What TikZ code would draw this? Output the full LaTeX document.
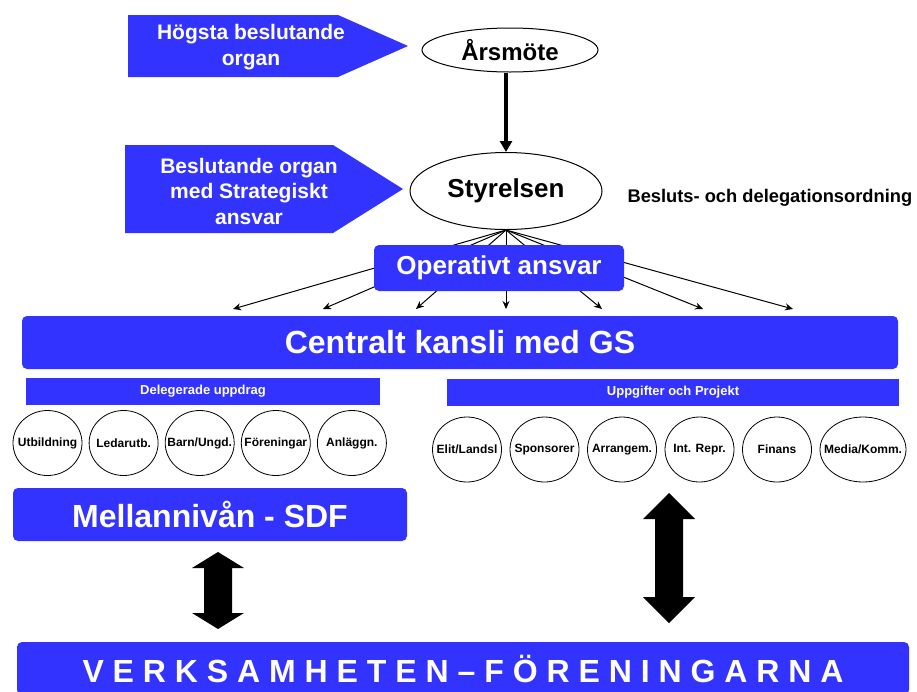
\documentclass[tikz,border=0pt]{standalone}
\usepackage{fontspec}
\setmainfont{Liberation Sans}
\usetikzlibrary{arrows.meta,shapes.geometric}
\definecolor{orgblue}{RGB}{51,51,255}

\begin{document}
\begin{tikzpicture}[x=1pt,y=-1pt,
  box/.style = {rectangle,rounded corners=5pt,fill=orgblue,text=white,inner sep=0pt,font=\fontsize{32}{36}\selectfont\bfseries},
  bar/.style = {rectangle,fill=orgblue,text=white,inner sep=0pt,minimum height=27pt,font=\fontsize{13}{15}\selectfont\bfseries},
  tag/.style = {text=white,align=center,font=\fontsize{21}{25.5}\selectfont\bfseries},
  oval/.style = {ellipse,draw=black,fill=white,line width=1pt,inner sep=0pt},
  circ/.style = {ellipse,draw=black,line width=0.8pt,minimum width=69pt,minimum height=65pt,inner sep=0pt,font=\fontsize{12}{14}\selectfont\bfseries}]
\clip (0,0) rectangle (917,691);

% blue pointers on the left
\fill[orgblue] (128,15) -- (338,15) -- (408,46) -- (338,77) -- (128,77) -- cycle;
\node[tag] (hogsta) at (251,47) {Högsta beslutande\\organ};
\fill[orgblue] (125,145) -- (333,145) -- (403,189) -- (333,233) -- (125,233) -- cycle;
\node[tag] (strategi) at (249,191) {Beslutande organ\\med Strategiskt\\ansvar};

\node[oval,minimum width=176pt,minimum height=44pt,font=\fontsize{24}{28}\selectfont\bfseries] (arsmote) at (510,50) {\makebox[0pt]{Årsmöte}};
\node[oval,minimum width=192pt,minimum height=77pt,font=\fontsize{26}{30}\selectfont\bfseries] (styrelsen) at (506,191) {\makebox[0pt]{Styrelsen}};
\draw[line width=3.5pt,-{Triangle[length=11pt,width=12pt]}] (arsmote.south -| styrelsen.north) -- (styrelsen.north);
\node[anchor=base west,font=\fontsize{18.3}{22}\selectfont\bfseries] (ordning) at (624,202) {Besluts- och delegationsordning};

% fan down to the office
\foreach \x [count=\j] in {233,323,416,506,602,703,793} {
    \coordinate (t\j) at (\x,309);
    \draw[line width=1pt,-{Stealth[length=8pt,width=7pt]}] (styrelsen.south) -- (t\j);
}
\node[box,minimum width=250pt,minimum height=46pt,font=\fontsize{26}{30}\selectfont\bfseries] (operativt) at (499,268) {Operativt ansvar};

\node[box,minimum width=876pt,minimum height=53pt] (kansli) at (460,342.5) {Centralt kansli med GS};
\node[bar,minimum width=354pt] (delegerade) at (203,391.5) {Delegerade uppdrag};
\node[bar,minimum width=452pt] (uppgifter) at (673,392.5) {Uppgifter och Projekt};

\foreach \t [count=\j from 0] in {Utbildning, Ledarutb., Barn/Ungd., Föreningar, Anläggn.}
    \node[circ] (d\j) at (47.5+76.1*\j, 443) {\makebox[0pt]{\t}};
\foreach \t [count=\j from 0] in {Elit/Landsl, Sponsorer, Arrangem., Int. Repr., Finans}
    \node[circ] (u\j) at (467+77.5*\j, 449.5) {\makebox[0pt]{\t}};
\node[circ,minimum width=86pt] (u5) at (863,449.5) {\makebox[0pt]{Media/Komm.}};

\node[box,minimum width=394pt,minimum height=53pt] (mellan) at (210,514.5) {Mellannivån - SDF};
\node[box,minimum width=892pt,minimum height=53pt] (verksamhet) at (463,668.5) {V E R K S A M H E T E N – F Ö R E N I N G A R N A};

% fat double arrows
\fill (218,552) -- (244,568) -- (232,568) -- (232,613) -- (244,613) -- (218,629) -- (192,613) -- (204,613) -- (204,568) -- (192,568) -- cycle;
\fill (669,493) -- (695,519) -- (683,519) -- (683,597) -- (695,597) -- (669,623) -- (643,597) -- (655,597) -- (655,519) -- (643,519) -- cycle;
\end{tikzpicture}
\end{document}
